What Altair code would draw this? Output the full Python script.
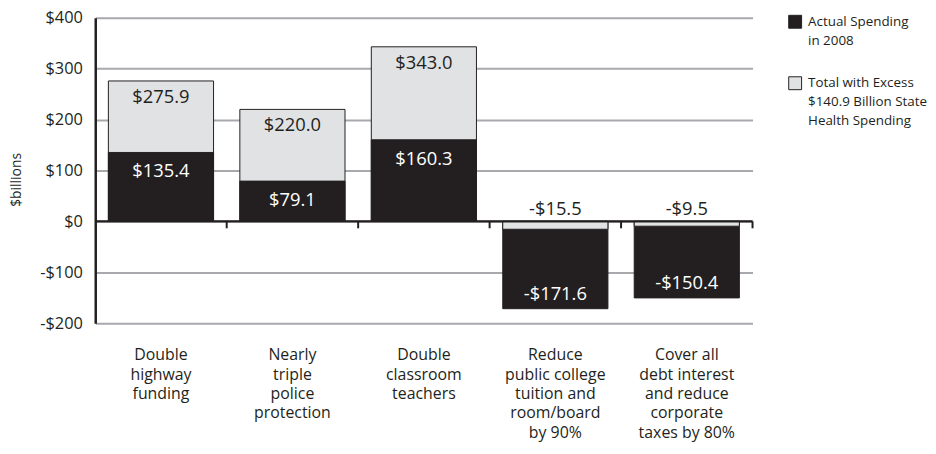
import altair as alt
import pandas as pd

categories = [
    "Double|highway|funding",
    "Nearly|triple|police|protection",
    "Double|classroom|teachers",
    "Reduce|public college|tuition and|room/board|by 90%",
    "Cover all|debt interest|and reduce|corporate|taxes by 80%",
]
actual = [135.4, 79.1, 160.3, -171.6, -150.4]
total = [275.9, 220.0, 343.0, -15.5, -9.5]
series_names = [
    "Actual Spending|in 2008",
    "Total with Excess|$140.9 Billion State|Health Spending",
]
y_ticks = [-200, -100, 0, 100, 200, 300, 400]

DARK = "#231f20"
LIGHT = "#e1e2e4"
GRID = "#a7a9ac"
FONT = "Open Sans"
PLOT_W = 663
PAD_INNER = 0.2


def money(v):
    return ("-" if v < 0 else "") + "$" + f"{abs(v):.1f}"


# bar rows: larger magnitude drawn first so the smaller one is visible on top
rows = []
for c, a, t in zip(categories, actual, total):
    pair = [(series_names[0], a), (series_names[1], t)]
    pair.sort(key=lambda p: -abs(p[1]))
    for s, v in pair:
        rows.append({"cat": c, "series": s, "value": v})
bars_df = pd.DataFrame(rows)

lab_df = pd.DataFrame({
    "cat": categories,
    "actual": actual,
    "total": total,
    "actual_txt": [money(v) for v in actual],
    "total_txt": [money(v) for v in total],
    "zero": [0] * len(categories),
})

xscale = alt.Scale(domain=categories, range=[0, PLOT_W], paddingInner=PAD_INNER,
                   paddingOuter=PAD_INNER / 2)
yscale = alt.Scale(domain=[-200, 400], nice=False, zero=False)

label_axis = alt.Axis(
    title=None, domain=False, ticks=False, grid=False, orient="bottom",
    labelExpr="split(datum.label, '|')", labelAngle=0,
    labelFont=FONT, labelFontSize=16, labelColor=DARK,
    labelLineHeight=19.5, labelPadding=24, labelBaseline="top",
)

y_axis = alt.Axis(
    title="$billions", values=y_ticks,
    labelExpr="datum.value < 0 ? '-$' + abs(datum.value) : '$' + datum.value",
    labelFont=FONT, labelFontSize=16.5, labelColor=DARK, labelPadding=13,
    ticks=False, domain=True, domainColor=DARK, domainWidth=2.5,
    grid=True, gridColor=GRID, gridWidth=2, gridOpacity=1,
    titleFont=FONT, titleFontSize=14, titleFontWeight="normal", titleColor=DARK,
    titleX=-79, titleY=163, titleAngle=-90, titleAlign="center", titleBaseline="middle",
)

color = alt.Color(
    "series:N",
    scale=alt.Scale(domain=series_names, range=[DARK, LIGHT]),
    legend=alt.Legend(
        title=None, orient="none", legendX=699, legendY=-3,
        symbolType="square", symbolSize=169, symbolStrokeColor=DARK,
        symbolStrokeWidth=1, symbolOpacity=1,
        labelExpr="split(datum.label, '|')",
        labelFont=FONT, labelFontSize=13.5, labelColor=DARK,
        labelOffset=6, rowPadding=27, padding=0, labelLimit=300,
    ),
)

bars = alt.Chart(bars_df).mark_bar(stroke=DARK, strokeWidth=1).encode(
    x=alt.X("cat:N", sort=categories, scale=xscale, axis=label_axis),
    y=alt.Y("value:Q", scale=yscale, axis=y_axis, stack=None),
    color=color,
)

lab = alt.Chart(lab_df)
xe = alt.X("cat:N", sort=categories, scale=xscale)

t_pos = lab.transform_filter("datum.total > 0").mark_text(
    baseline="top", dy=7, font=FONT, fontSize=18.5, color=DARK
).encode(x=xe, y=alt.Y("total:Q", scale=yscale), text="total_txt:N")

t_neg = lab.transform_filter("datum.total < 0").mark_text(
    baseline="alphabetic", dy=-6, font=FONT, fontSize=18.5, color=DARK
).encode(x=xe, y=alt.Y("zero:Q", scale=yscale), text="total_txt:N")

a_pos = lab.transform_filter("datum.actual > 0").mark_text(
    baseline="top", dy=10, font=FONT, fontSize=18.5, color="white"
).encode(x=xe, y=alt.Y("actual:Q", scale=yscale), text="actual_txt:N")

a_neg = lab.transform_filter("datum.actual < 0").mark_text(
    baseline="alphabetic", dy=-9, font=FONT, fontSize=18.5, color="white"
).encode(x=xe, y=alt.Y("actual:Q", scale=yscale), text="actual_txt:N")

# zero baseline across the plot, drawn above the bars
zero_line = lab.mark_rule(color=DARK, strokeWidth=2.5).encode(
    y=alt.Y("mean(zero):Q", scale=yscale),
)

# small ticks at the category boundaries on the zero line
step = PLOT_W / len(categories)
zero_ticks = lab.mark_tick(
    orient="vertical", color=DARK, thickness=2, size=7, yOffset=3.5, opacity=1,
    xOffset=step * PAD_INNER / 2,
).encode(
    x=alt.X("cat:N", sort=categories, scale=xscale, bandPosition=1),
    y=alt.Y("zero:Q", scale=yscale),
)

chart = alt.layer(bars, zero_line, zero_ticks, t_pos, t_neg, a_pos, a_neg).properties(
    width=PLOT_W, height=308,
    padding={"left": 88, "top": 8, "right": 177, "bottom": 118},
    autosize=alt.AutoSizeParams(type="none"),
).configure(
    background="white",
    style={"guide-label": {"lineHeight": 19}},
    view=alt.ViewConfig(strokeWidth=0, stroke="transparent"),
)

chart.save("out.html", embed_options={"renderer": "svg", "actions": False})
